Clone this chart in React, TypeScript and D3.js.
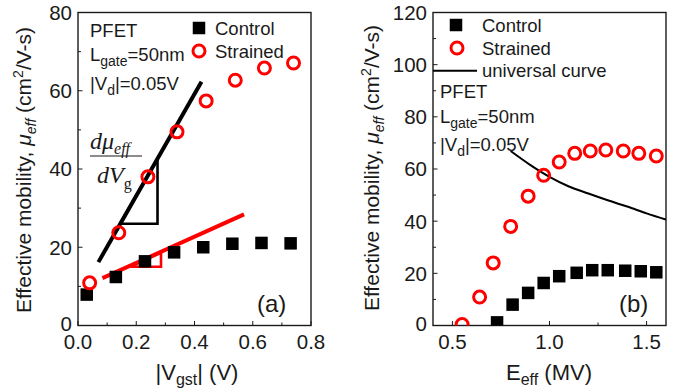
import React from "react"
import { scaleLinear, range, line as d3_line, curveMonotoneX } from "d3"

// panel (a): mobility vs |Vgst|
const vgstControl = [0.03, 0.13, 0.23, 0.33, 0.43, 0.53, 0.63, 0.73]
const muControlA = [7.9, 12.4, 16.4, 18.7, 20.0, 20.9, 21.1, 21.0]
const vgstStrained = [0.04, 0.14, 0.24, 0.34, 0.44, 0.54, 0.64, 0.74]
const muStrainedA = [10.9, 23.7, 38.0, 49.5, 57.4, 62.7, 65.8, 67.1]

// tangent lines + slope triangles (a)
const tangentBlack = [[0.07, 16.2], [0.424, 62.3]]
const triangleBlack = [[0.144, 26.0], [0.273, 26.0], [0.273, 42.7]]
const tangentRed = [[0.084, 12.1], [0.57, 28.4]]
const triangleRed = [[0.18, 15.0], [0.285, 15.0], [0.285, 18.6]]

// panel (b): mobility vs Eeff
const eStrained = [0.55, 0.64, 0.71, 0.8, 0.89, 0.97, 1.05, 1.13, 1.21, 1.29, 1.38, 1.46, 1.55]
const muStrainedB = [0.4, 10.9, 24.0, 38.0, 49.6, 57.6, 62.7, 66.0, 66.9, 67.3, 66.9, 66.0, 65.0]
const eControl = [0.73, 0.81, 0.89, 0.97, 1.05, 1.14, 1.22, 1.3, 1.39, 1.47, 1.55]
const muControlB = [1.2, 8.0, 12.5, 16.3, 18.9, 20.2, 21.2, 21.2, 21.0, 20.8, 20.4]
const eUniversal = [0.8, 0.9, 1.0, 1.1, 1.2, 1.3, 1.4, 1.5, 1.6]
const muUniversal = [66.9, 61.6, 57.0, 53.3, 50.6, 48.0, 45.6, 43.0, 40.6]

const xTicksA = [0, 0.2, 0.4, 0.6, 0.8]
const yTicksA = [0, 20, 40, 60, 80]
const xTicksB = [0.5, 1.0, 1.5]
const yTicksB = [0, 20, 40, 60, 80, 100, 120]

const RED = "#ff0000"
const INK = "#1a1a1a"
const FONT = "'Liberation Sans', Arial, sans-serif"
const TICK_FS = 20.5
const NOTE_FS = 18.5

function Frame({ x, y, xTicks, yTicks, xMinor, yMinor, fmtX, fmtY }: any) {
  const [x0, x1] = x.range()
  const [y0, y1] = y.range()
  return (
    <g>
      <rect x={x0} y={y1} width={x1 - x0} height={y0 - y1} fill="none" stroke={INK} strokeWidth={1.4} />
      {xMinor.map((v: number, i: number) => (
        <line key={"xm" + i} x1={x(v)} x2={x(v)} y1={y0} y2={y0 - (xTicks.some((t: number) => Math.abs(t - v) < 1e-6) ? 4.5 : 3)} stroke={INK} strokeWidth={1} />
      ))}
      {yMinor.map((v: number, i: number) => (
        <line key={"ym" + i} x1={x0} x2={x0 + (yTicks.includes(v) ? 4.5 : 3)} y1={y(v)} y2={y(v)} stroke={INK} strokeWidth={1} />
      ))}
      {xTicks.map((v: number, i: number) => (
        <text key={"xl" + i} x={x(v)} y={349} textAnchor="middle" fontSize={TICK_FS} fill={INK}>
          {fmtX(v)}
        </text>
      ))}
      {yTicks.map((v: number, i: number) => (
        <text key={"yl" + i} x={x0 - 6} y={y(v)} dy={v === 0 ? "0.28em" : "0.36em"} textAnchor="end" fontSize={TICK_FS} fill={INK}>
          {fmtY(v)}
        </text>
      ))}
    </g>
  )
}

function YTitle({ x, y }: { x: number; y: number }) {
  return (
    <text transform={`translate(${x},${y}) rotate(-90)`} fontSize={21} fill={INK} textAnchor="middle">
      Effective mobility,{" "}
      <tspan fontStyle="italic">μ</tspan>
      <tspan fontStyle="italic" fontSize={14} dy={5}>eff</tspan>
      <tspan dy={-5}>{"  "}(cm</tspan>
      <tspan fontSize={14} dy={-8}>2</tspan>
      <tspan dy={8}>/V-s)</tspan>
    </text>
  )
}

function Square({ cx, cy, s = 12.5 }: any) {
  return <rect x={cx - s / 2} y={cy - s / 2} width={s} height={s} fill="#000" />
}

function Ring({ cx, cy }: any) {
  return <circle cx={cx} cy={cy} r={6} fill="none" stroke={RED} strokeWidth={3} />
}

function Conditions({ x, y }: { x: number; y: number[] }) {
  return (
    <text fontSize={NOTE_FS} fill={INK}>
      <tspan x={x} y={y[0]}>PFET</tspan>
      <tspan x={x} y={y[1]}>L</tspan>
      <tspan fontSize={14} dy={5}>gate</tspan>
      <tspan dy={-5}>=50nm</tspan>
      <tspan x={x} y={y[2]}>|V</tspan>
      <tspan fontSize={14} dy={5}>d</tspan>
      <tspan dy={-5}>|=0.05V</tspan>
    </text>
  )
}

export default function App() {
  const xA = scaleLinear().domain([0, 0.8]).range([78, 311])
  const yA = scaleLinear().domain([0, 80]).range([325.5, 12.5])
  const xB = scaleLinear().domain([0.4, 1.6]).range([433, 666])
  const yB = scaleLinear().domain([0, 120]).range([325.5, 12.5])

  const lineA = d3_line<number[]>()
    .x((d) => xA(d[0]))
    .y((d) => yA(d[1]))
  const universal = d3_line<number>()
    .x((d, i) => xB(eUniversal[i]))
    .y((d) => yB(d))
    .curve(curveMonotoneX)

  const r = (a: number, b: number, s: number) => range(a, b + s / 2, s).map((v) => +v.toFixed(3))

  return (
    <svg width={676} height={389} style={{ position: "absolute", left: 0, top: 0, background: "#fff" }} fontFamily={FONT}>
      <defs>
        <clipPath id="clipB">
          <rect x={433} y={12.5} width={233} height={313} />
        </clipPath>
      </defs>

      {/* ---------- panel (a) ---------- */}
      <Frame x={xA} y={yA} xTicks={xTicksA} yTicks={yTicksA} xMinor={r(0, 0.8, 0.1)} yMinor={r(0, 80, 10)} fmtX={(v: number) => v.toFixed(1)} fmtY={(v: number) => v} />
      <YTitle x={31} y={170} />
      <text x={197} y={380} textAnchor="middle" fontSize={22} fill={INK}>
        |V<tspan fontSize={16} dy={5}>gst</tspan>
        <tspan dy={-5}>| (V)</tspan>
      </text>

      <path d={lineA(tangentBlack) ?? ""} stroke="#000" strokeWidth={4} fill="none" />
      <path d={(lineA(triangleBlack) ?? "") + "Z"} stroke="#000" strokeWidth={2.6} fill="none" />
      <path d={lineA(tangentRed) ?? ""} stroke={RED} strokeWidth={4} fill="none" />
      <path d={(lineA(triangleRed) ?? "") + "Z"} stroke={RED} strokeWidth={2.6} fill="none" />

      {vgstControl.map((v, i) => (
        <Square key={"ca" + i} cx={xA(v)} cy={yA(muControlA[i])} />
      ))}
      {vgstStrained.map((v, i) => (
        <Ring key={"sa" + i} cx={xA(v)} cy={yA(muStrainedA[i])} />
      ))}

      <Conditions x={90} y={[37, 61, 90]} />
      <g fontFamily="'Liberation Serif', 'Times New Roman', serif" fontStyle="italic" fill={INK}>
        <text x={90} y={149} fontSize={24}>
          dμ<tspan fontSize={16} dy={5}>eff</tspan>
        </text>
        <line x1={90} x2={142} y1={156} y2={156} stroke={INK} strokeWidth={1.2} />
        <text x={97} y={183} fontSize={24}>
          dV<tspan fontSize={16} dy={6} fontStyle="normal">g</tspan>
        </text>
      </g>

      <Square cx={199} cy={28} />
      <text x={215} y={35} fontSize={NOTE_FS} fill={INK}>Control</text>
      <Ring cx={199} cy={51} />
      <text x={215} y={58} fontSize={NOTE_FS} fill={INK}>Strained</text>
      <text x={257} y={312} fontSize={24} fill={INK}>(a)</text>

      {/* ---------- panel (b) ---------- */}
      <Frame x={xB} y={yB} xTicks={xTicksB} yTicks={yTicksB} xMinor={r(0.5, 1.5, 0.25)} yMinor={r(0, 120, 10)} fmtX={(v: number) => v.toFixed(1)} fmtY={(v: number) => v} />
      <YTitle x={379} y={168} />
      <text x={549} y={380} textAnchor="middle" fontSize={22} fill={INK}>
        E<tspan fontSize={16} dy={5}>eff</tspan>
        <tspan dy={-5}> (MV)</tspan>
      </text>

      <g clipPath="url(#clipB)">
        <path d={universal(muUniversal) ?? ""} stroke="#000" strokeWidth={2} fill="none" />
        {eControl.map((v, i) => (
          <Square key={"cb" + i} cx={xB(v)} cy={yB(muControlB[i])} />
        ))}
        {eStrained.map((v, i) => (
          <Ring key={"sb" + i} cx={xB(v)} cy={yB(muStrainedB[i])} />
        ))}
      </g>

      <Square cx={456} cy={25} />
      <text x={482} y={32} fontSize={NOTE_FS} fill={INK}>Control</text>
      <Ring cx={457} cy={48} />
      <text x={482} y={55} fontSize={NOTE_FS} fill={INK}>Strained</text>
      <line x1={433} x2={477} y1={70.7} y2={70.7} stroke="#000" strokeWidth={2} />
      <text x={482} y={77} fontSize={NOTE_FS} fill={INK}>universal curve</text>

      <Conditions x={440} y={[98, 123, 151]} />
      <text x={619} y={312} fontSize={24} fill={INK}>(b)</text>
    </svg>
  )
}
